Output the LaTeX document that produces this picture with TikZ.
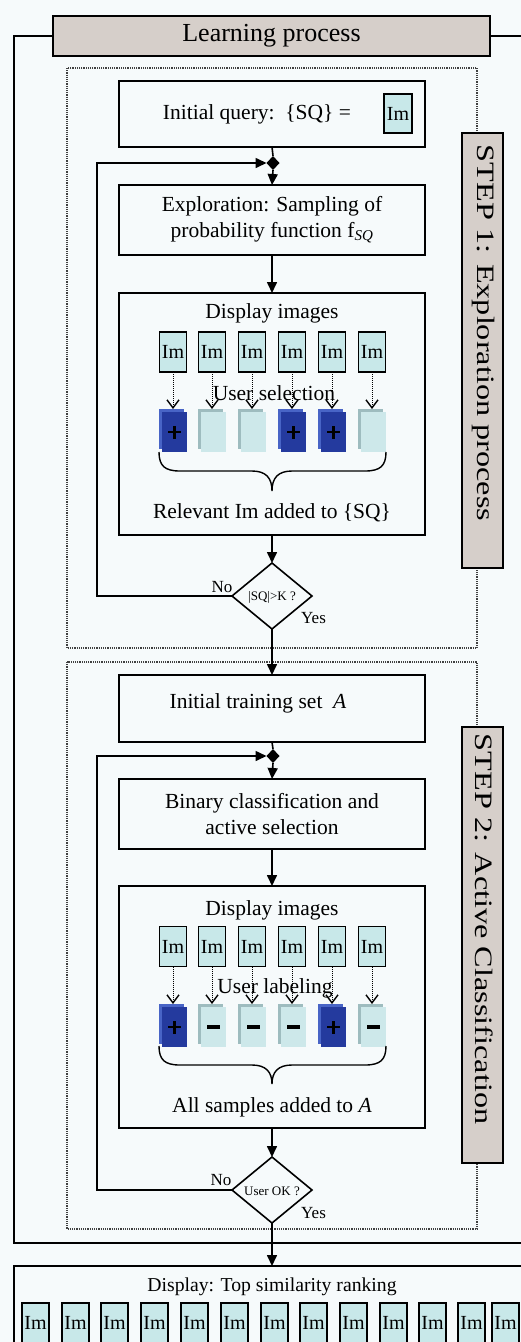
\documentclass[tikz,border=0pt]{standalone}
\usepackage{fontspec}
\setmainfont{Liberation Serif}
\usetikzlibrary{arrows.meta,shapes.geometric,calc}
\definecolor{bgc}{RGB}{246,250,251}
\definecolor{greyfill}{RGB}{214,207,202}
\definecolor{imfill}{RGB}{200,232,233}
\definecolor{darkblue}{RGB}{36,58,158}
\definecolor{midblue}{RGB}{72,100,198}
\definecolor{lightsq}{RGB}{205,232,234}
\definecolor{lightsqb}{RGB}{158,188,191}
\begin{document}
\begin{tikzpicture}[x=1pt,y=-1pt,
  every node/.style={inner sep=0pt, outer sep=0pt, text=black},
  flowbox/.style={draw, line width=1.8pt, minimum width=306pt},
  greybox/.style={draw, line width=1.6pt, fill=greyfill},
  imbox/.style={draw, line width=1.2pt, fill=imfill, minimum width=27pt, minimum height=40pt, font=\fontsize{20}{20}\selectfont},
  txt/.style={font=\fontsize{21.5}{26}\selectfont, align=center},
  small/.style={font=\fontsize{13}{13}\selectfont},
  yesno/.style={font=\fontsize{17}{17}\selectfont},
  arr/.style={line width=1.6pt, -{Triangle[length=11pt,width=10pt]}},
  plainline/.style={line width=1.6pt},
  frameline/.style={line width=1.8pt},
  dotbox/.style={draw=black!75, line width=1.2pt, densely dotted},
  dotarr/.style={line width=1pt, densely dotted, -{Straight Barb[length=8pt,width=12pt,line width=1.4pt]}},
  sqback/.style={minimum width=25pt, minimum height=40pt},
  sqfront/.style={minimum width=25pt, minimum height=40pt},
  hbar/.style={fill=black, minimum width=13pt, minimum height=2.6pt},
  vbar/.style={fill=black, minimum width=2.6pt, minimum height=13pt},
  mbar/.style={fill=black, minimum width=13pt, minimum height=4.5pt},
  decision/.style={draw, diamond, line width=1.6pt, minimum width=80pt, minimum height=66pt, aspect=1.2},
  junction/.style={fill=black, diamond, minimum width=13pt, minimum height=14pt},
  bracestyle/.style={line width=1.4pt}
]
\useasboundingbox (0,0) rectangle (521,1342);
\clip (0,0) rectangle (521,1342);
\fill[bgc] (0,0) rectangle (521,1342);

% dotted step boxes
\draw[dotbox] (67,68) rectangle (477,648);
\draw[dotbox] (67,662) rectangle (477,1229);

% title
\node[greybox, minimum width=437pt, minimum height=40pt, font=\fontsize{26}{26}\selectfont] (lp) at (271.5,36) {Learning process};
\draw[frameline] (lp.west) -- (14,36) -- (14,1243) -- (530,1243);
\draw[frameline] (lp.east) -- (530,36);

% step labels
\node[greybox, minimum width=41pt, minimum height=435pt] (st1) at (482.5,350.5) {};
\node[rotate=-90, font=\fontsize{25}{25}\selectfont] (st1t) at (484,333) {\scalebox{1.29}[1]{STEP 1: Exploration process}};
\node[greybox, minimum width=41pt, minimum height=436pt] (st2) at (482.5,945) {};
\node[rotate=-90, font=\fontsize{25}{25}\selectfont] (st2t) at (484,929) {\scalebox{1.29}[1]{STEP 2: Active Classification}};

% STEP 1
\node[flowbox, minimum height=66pt] (iq) at (272,114) {};
\node[txt] (iqt) at (257,114) {Initial query:\ \ \{SQ\} =};
\node[imbox, minimum width=28pt, minimum height=39pt] (iqim) at (398,113.5) {Im};
\node[junction] (j1) at (273,163) {};
\node[flowbox, minimum height=70pt, txt] (ex) at (272,220) {Exploration: Sampling of\\probability function f\textsubscript{\textit{SQ}}};
\node[flowbox, minimum height=242pt] (d1) at (272,414) {};
\node[txt] (d1t) at (272,313) {Display images};
\foreach \i/\x/\bc/\fc in {1/173/midblue/darkblue,2/212/lightsqb/lightsq,3/252/lightsqb/lightsq,4/292/midblue/darkblue,5/332/midblue/darkblue,6/372/lightsqb/lightsq}{
  \node[imbox] (a\i) at (\x,352) {Im};
  \node[sqback, fill=\bc] (ab\i) at (\x-1.5,429) {};
  \node[sqfront, fill=\fc] (af\i) at (\x+1.5,432) {};
  \draw[dotarr] (a\i.south) -- (a\i.south |- ab\i.north);
}
\foreach \i in {1,4,5}{
  \node[hbar] (aph\i) at (af\i) {};
  \node[vbar] (apv\i) at (af\i) {};
}
\node[txt] (us1) at (274,393) {User selection};
\begin{scope}[shift={(0,452)}]
\draw[bracestyle] (159,0) .. controls (159,14) and (165,19) .. (180,19) -- (252,19) .. controls (266,19) and (272,26) .. (272,39) .. controls (272,26) and (278,19) .. (292,19) -- (365,19) .. controls (380,19) and (386,14) .. (386,0);
\end{scope}
\node[txt] (rel) at (272,513) {Relevant Im added to \{SQ\}};
\node[decision] (dec1) at (272,596) {};
\node[small] (dec1t) at (272,597) {|SQ|>K ?};
\node[yesno] (no1) at (222,587) {No};
\node[yesno] (yes1) at (313.5,618) {Yes};
\coordinate (lx1) at (97,400);

% STEP 2
\node[flowbox, minimum height=67pt] (tr) at (272,708.5) {};
\node[txt] (trt) at (258,703) {Initial training set\ \ \textit{A}};
\node[junction] (j2) at (273,756) {};
\node[flowbox, minimum height=70pt, txt] (bc) at (272,814) {Binary classification and\\active selection};
\node[flowbox, minimum height=242pt] (d2) at (272,1007) {};
\node[txt] (d2t) at (272,910) {Display images};
\foreach \i/\x/\bc/\fc in {1/173/midblue/darkblue,2/212/lightsqb/lightsq,3/252/lightsqb/lightsq,4/292/lightsqb/lightsq,5/332/midblue/darkblue,6/372/lightsqb/lightsq}{
  \node[imbox] (b\i) at (\x,946.5) {Im};
  \node[sqback, fill=\bc] (bb\i) at (\x-1.5,1024) {};
  \node[sqfront, fill=\fc] (bf\i) at (\x+1.5,1027) {};
  \draw[dotarr] (b\i.south) -- (b\i.south |- bb\i.north);
}
\foreach \i in {1,5}{
  \node[hbar] (bph\i) at (bf\i) {};
  \node[vbar] (bpv\i) at (bf\i) {};
}
\foreach \i in {2,3,4,6}{
  \node[mbar] (bm\i) at (bf\i) {};
}
\node[txt] (ul) at (275,988) {User labeling};
\begin{scope}[shift={(0,1046)}]
\draw[bracestyle] (159,0) .. controls (159,14) and (165,19) .. (180,19) -- (252,19) .. controls (266,19) and (272,26) .. (272,38) .. controls (272,26) and (278,19) .. (292,19) -- (365,19) .. controls (380,19) and (386,14) .. (386,0);
\end{scope}
\node[txt] (all) at (272,1107) {All samples added to \textit{A}};
\node[decision] (dec2) at (272,1190) {};
\node[small] (dec2t) at (272,1191) {User OK ?};
\node[yesno] (no2) at (221,1180) {No};
\node[yesno] (yes2) at (313.5,1213) {Yes};
\coordinate (lx2) at (97,1000);

% bottom
\node[draw, line width=1.8pt, minimum width=516pt, minimum height=114pt] (bot) at (272,1323) {};
\node[font=\fontsize{19.7}{20}\selectfont] (bott) at (272,1287) {Display: Top similarity ranking};
\foreach \i/\x in {1/35.5,2/75.5,3/114.5,4/154.5,5/194.5,6/234.5,7/274.5,8/313.5,9/353.5,10/393.5,11/432.5,12/471.5,13/505.5}{
  \node[imbox] (r\i) at (\x,1323) {Im};
}

% connectors
\draw[plainline] (iq.south) -- (j1.north);
\draw[arr] (j1.south) -- (ex.north);
\draw[arr] (ex.south) -- (d1.north);
\draw[arr] (d1.south) -- (dec1.north);
\draw[arr] (dec1.west) -| (lx1) |- (j1.west);
\draw[arr] (dec1.south) -- (tr.north);
\draw[plainline] (tr.south) -- (j2.north);
\draw[arr] (j2.south) -- (bc.north);
\draw[arr] (bc.south) -- (d2.north);
\draw[arr] (d2.south) -- (dec2.north);
\draw[arr] (dec2.west) -| (lx2) |- (j2.west);
\draw[arr] (dec2.south) -- (bot.north);
\end{tikzpicture}
\end{document}
